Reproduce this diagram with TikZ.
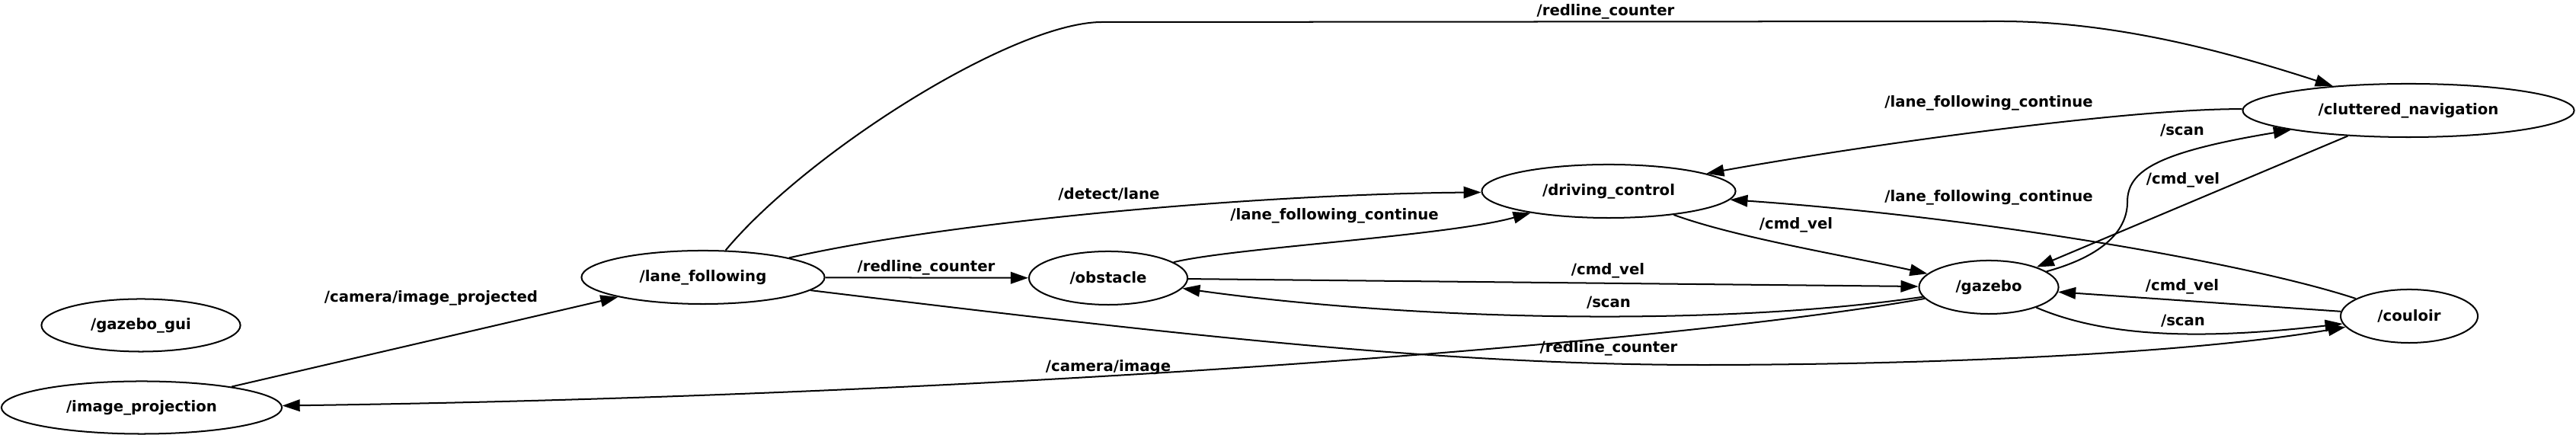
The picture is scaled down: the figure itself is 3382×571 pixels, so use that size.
\documentclass[tikz,border=0pt]{standalone}
\usepackage{fontspec}
\setmainfont{DejaVu Sans}
\usetikzlibrary{shapes.geometric,arrows.meta}
\begin{document}
\begin{tikzpicture}[x=0.01cm,y=-0.01cm,
  nd/.style={draw,ellipse,line width=0.57pt,inner sep=0pt,minimum height=0.70cm,font=\fontsize{5.6pt}{7pt}\selectfont\bfseries},
  ed/.style={line width=0.57pt,-{Triangle[length=0.23cm,width=0.155cm]}},
  lb/.style={font=\fontsize{5.6pt}{7pt}\selectfont\bfseries,inner sep=0pt}]
\useasboundingbox (0,0) rectangle (3382,571);
% nodes
\node[nd,minimum width=2.61cm,minimum height=0.69cm] (gui) at (185,427) {/gazebo\_gui};
\node[nd,minimum width=3.68cm,minimum height=0.69cm] (imgp) at (186,535) {/image\_projection};
\node[nd,minimum width=3.19cm] (lane) at (923,364) {/lane\_following};
\node[nd,minimum width=2.08cm] (obst) at (1455,365) {/obstacle};
\node[nd,minimum width=3.33cm] (drive) at (2112,251) {/driving\_control};
\node[nd,minimum width=1.83cm] (gaz) at (2611,377) {/gazebo};
\node[nd,minimum width=1.80cm] (coul) at (3163,415) {/couloir};
\node[nd,minimum width=4.35cm] (clut) at (3162,145) {/cluttered\_navigation};
% edges
\draw[ed] (imgp) -- (lane);
\draw[ed] (gaz) .. controls (2200,450) and (1300,520) .. (imgp);
\draw[ed] (lane) .. controls (1250,290) and (1650,255) .. (drive);
\draw[ed] (lane) -- (obst);
\draw[ed] (lane) .. controls (1060,200) and (1330,29) .. (1447,29) -- (2626,28) .. controls (2780,28) and (2930,70) .. (clut);
\draw[ed] (lane) .. controls (1550,440) and (1900,480) .. (2250,479) .. controls (2600,478) and (2900,460) .. (coul);
\draw[ed] (obst) .. controls (1620,325) and (1900,310) .. (drive);
\draw[ed] (obst) -- (gaz);
\draw[ed] (gaz) .. controls (2250,430) and (1850,420) .. (obst);
\draw[ed] (drive) .. controls (2280,312) and (2420,335) .. (gaz);
\draw[ed] (clut) .. controls (2800,142) and (2450,190) .. (drive);
\draw[ed] (gaz) .. controls (2765,335) and (2793,300) .. (2793,265) .. controls (2793,225) and (2830,200) .. (clut);
\draw[ed] (clut) -- (gaz);
\draw[ed] (coul) .. controls (2950,345) and (2600,285) .. (drive);
\draw[ed] (coul) -- (gaz);
\draw[ed] (gaz) .. controls (2770,445) and (2900,445) .. (coul);
% labels
\node[lb] (l1) at (566,391) {/camera/image\_projected};
\node[lb] (l2) at (1455,482) {/camera/image};
\node[lb] (l3) at (1456,255) {/detect/lane};
\node[lb] (l4) at (1216,351) {/redline\_counter};
\node[lb] (l5) at (2108,15) {/redline\_counter};
\node[lb] (l6) at (2112,457) {/redline\_counter};
\node[lb] (l7) at (1752,283) {/lane\_following\_continue};
\node[lb] (l8) at (2111,355) {/cmd\_vel};
\node[lb] (l9) at (2112,397) {/scan};
\node[lb] (l10) at (2358,295) {/cmd\_vel};
\node[lb] (l11) at (2611,135) {/lane\_following\_continue};
\node[lb] (l12) at (2865,171) {/scan};
\node[lb] (l13) at (2866,236) {/cmd\_vel};
\node[lb] (l14) at (2611,259) {/lane\_following\_continue};
\node[lb] (l15) at (2865,376) {/cmd\_vel};
\node[lb] (l16) at (2866,421) {/scan};
\end{tikzpicture}
\end{document}
